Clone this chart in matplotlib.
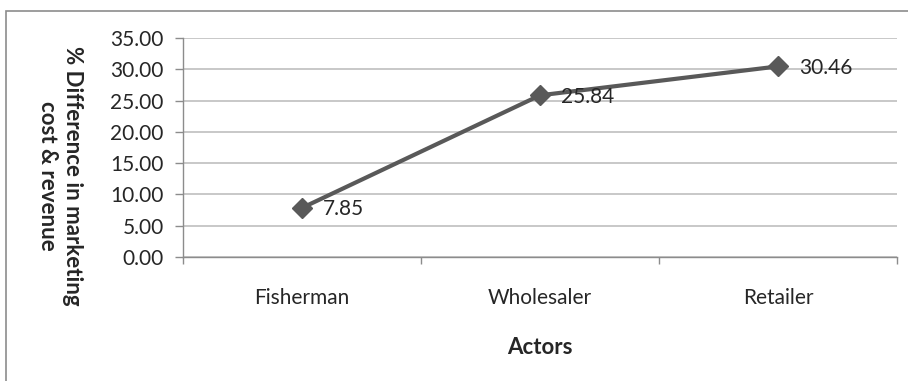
import matplotlib
matplotlib.use("Agg")
import matplotlib.pyplot as plt
from matplotlib.patches import Rectangle

categories = ["Fisherman", "Wholesaler", "Retailer"]
values = [7.85, 25.84, 30.46]
yticks = [0, 5, 10, 15, 20, 25, 30, 35]
ylabel = "% Difference in marketing\ncost & revenue"
xlabel = "Actors"

plt.rcParams['font.family'] = ['Lato', 'DejaVu Sans']
W, H = 908, 381
fig = plt.figure(figsize=(W/100, H/100), dpi=100)
fig.patch.set_facecolor("white")

# outer chart frame
fig.patches.append(Rectangle((6/W, -0.1), 1.2, (H-11)/H + 0.1, transform=fig.transFigure,
                             fill=False, edgecolor="#8c8c8c", linewidth=1.2))

ax = fig.add_axes([183/W, 1-257/H, (897-183)/W, (257-38)/H])
x = [0.5, 1.5, 2.5]
ax.plot(x, values, color="#595959", linewidth=3, marker="D", markersize=10,
        markerfacecolor="#595959", markeredgecolor="#595959", zorder=3)
for xi, v in zip(x, values):
    ax.annotate(f"{v:.2f}", (xi, v), xytext=(15, -1), textcoords="offset points",
                ha="left", va="center", fontsize=15, color="#262626", zorder=4)

ax.set_xlim(0, 3)
ax.set_ylim(0, 35)
ax.set_yticks(yticks)
ax.set_yticklabels([f"{t:.2f}" for t in yticks], fontsize=15, color="#262626")
ax.set_xticks([0, 1, 2, 3], minor=False)
ax.set_xticklabels([])
ax.set_xticks(x, minor=True)
ax.set_xticklabels(categories, minor=True, fontsize=15, color="#262626")
ax.tick_params(axis="x", which="minor", length=0, pad=22)
ax.tick_params(axis="x", which="major", length=5, color="#8c8c8c", width=1)
ax.tick_params(axis="y", length=6, color="#8c8c8c", width=1, pad=8)
ax.grid(axis="y", color="#bfbfbf", linewidth=1.2)
ax.set_axisbelow(True)
for s in ["top", "right"]:
    ax.spines[s].set_visible(False)
for s in ["left", "bottom"]:
    ax.spines[s].set_color("#8c8c8c")
    ax.spines[s].set_linewidth(1)

fig.text(60/W, 1-176/H, ylabel, rotation=-90, ha="center", va="center",
         fontsize=16, fontweight="bold", color="#262626", multialignment="center",
         linespacing=1.25)
fig.text(540/W, 1-347/H, xlabel, ha="center", va="center", fontsize=16,
         fontweight="bold", color="#262626")

fig.savefig("out.png", dpi=100, facecolor="white")
